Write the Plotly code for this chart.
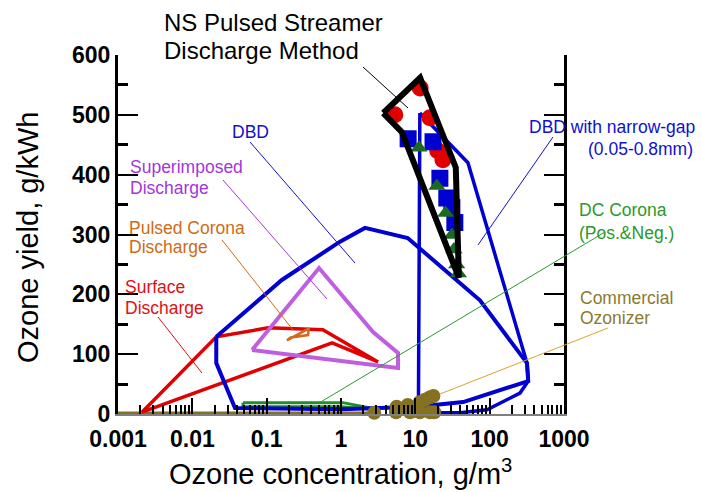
import plotly.graph_objects as go

# ---------------- data: x = ozone concentration (g/m3), y = ozone yield (g/kWh) ----------------
ns_x = [3.7, 11.6, 35, 38.5, 6.6, 3.7]
ns_y = [503, 562, 412, 228, 471, 503]

ns_red_x = [11.6, 5.3, 15.7, 20, 23.5]
ns_red_y = [545, 500, 495, 440, 425]
ns_blue_x = [8.0, 17.3, 21.4, 26.5, 31, 34]
ns_blue_y = [460, 455, 394, 361, 345, 320]
ns_green_x = [11.2, 19.5, 25.6, 31, 33, 36, 38]
ns_green_y = [445, 381, 336, 299, 275, 250, 235]

dbd_x = [0.021, 0.16, 0.97, 2.1, 7.9, 74, 318, 330, 44, 19.5, 10.5, 1, 0.0375, 0.021, 0.021]
dbd_y = [129, 224, 288, 311, 294, 190, 85, 55, 20, 15, 12, 8, 10, 85, 129]

narrow_x = [11.5, 51, 318, 330, 256, 92, 40, 11, 11.5]
narrow_y = [503, 420, 85, 55, 35, 7, 2, 2, 503]

surface_x = [0.0021, 0.021, 0.104, 0.57, 3.15, 0.76, 0.0021]
surface_y = [3, 129, 144, 141, 87, 119, 3]

superimposed_x = [0.0636, 0.506, 2.7, 5.85, 5.85, 0.0636]
superimposed_y = [107, 244, 137, 102, 77, 107]

pulsed_x = [0.187, 0.37, 0.36, 0.21, 0.187]
pulsed_y = [123, 143, 132, 128, 123]

dc_x = [0.048, 1.06, 3.3, 1.0, 0.048, 0.048]
dc_y = [19, 19, 7, 12, 12, 19]

ozonizer_x = [2.8, 5.5, 5.6, 7.9, 8.5, 11.5, 11.5, 13.5, 15.8, 17.5, 15.8, 18]
ozonizer_y = [2, 3, 12, 15, 3, 20, 3, 24, 28, 30, 3, 3]
ozonizer_base_x = [0.001, 2.8]
ozonizer_base_y = [1.5, 1.5]

x_tickvals = [0.001, 0.01, 0.1, 1, 10, 100, 1000]
x_ticktext = ["0.001", "0.01", "0.1", "1", "10", "100", "1000"]
y_tickvals = [0, 100, 200, 300, 400, 500, 600]

FONT = "Liberation Sans, Arial, sans-serif"

BLUE = "#0000d0"
RED = "#e00000"
PURPLE = "#c05ee0"
ORANGE = "#d2691e"
GREEN = "#1f8f2a"
DKGREEN = "#1a6a22"
OLIVE = "#85711f"

fig = go.Figure()


def outline(x, y, color, width):
    fig.add_trace(go.Scatter(x=x, y=y, mode="lines",
                             line=dict(color=color, width=width),
                             hoverinfo="skip", showlegend=False))


outline(dc_x, dc_y, GREEN, 3)
outline(ozonizer_base_x, ozonizer_base_y, OLIVE, 3)
outline(surface_x, surface_y, RED, 3.5)
outline(superimposed_x, superimposed_y, PURPLE, 4)
outline(pulsed_x, pulsed_y, ORANGE, 2.5)
outline(narrow_x, narrow_y, BLUE, 3.5)
outline(dbd_x, dbd_y, BLUE, 4)

fig.add_trace(go.Scatter(x=ozonizer_x, y=ozonizer_y, mode="markers",
                         marker=dict(symbol="circle", size=14, color=OLIVE),
                         cliponaxis=False, showlegend=False))
fig.add_trace(go.Scatter(x=ns_red_x, y=ns_red_y, mode="markers",
                         marker=dict(symbol="circle", size=17, color=RED),
                         cliponaxis=False, showlegend=False))
fig.add_trace(go.Scatter(x=ns_blue_x, y=ns_blue_y, mode="markers",
                         marker=dict(symbol="square", size=17, color=BLUE),
                         cliponaxis=False, showlegend=False))
fig.add_trace(go.Scatter(x=ns_green_x, y=ns_green_y, mode="markers",
                         marker=dict(symbol="triangle-up", size=15, color=DKGREEN),
                         cliponaxis=False, showlegend=False))
outline(ns_x, ns_y, "black", 6)

# ---------------- labels and leader lines (paper coordinates) ----------------
labels = [
    ("NS Pulsed Streamer", 0.0987, 1.0905, "left", "black", 24),
    ("Discharge Method", 0.0987, 1.0139, "left", "black", 24),
    ("DBD", 0.2511, 0.7855, "left", "#1010d0", 17.5),
    ("Superimposed", 0.0224, 0.688, "left", "#a335dc", 17.5),
    ("Discharge", 0.0224, 0.6295, "left", "#a335dc", 17.5),
    ("Pulsed Corona", 0.0202, 0.5181, "left", "#d06a15", 17.5),
    ("Discharge", 0.0202, 0.4652, "left", "#d06a15", 17.5),
    ("Surface", 0.0112, 0.3538, "left", "#e01010", 17.5),
    ("Discharge", 0.0112, 0.2953, "left", "#e01010", 17.5),
    ("DBD with narrow-gap", 1.2982, 0.7994, "right", "#1010d0", 17.5),
    ("(0.05-0.8mm)", 1.2937, 0.7382, "right", "#1010d0", 17.5),
    ("DC Corona", 1.0291, 0.5682, "left", "#2a9a2a", 17.5),
    ("(Pos.&Neg.)", 1.0291, 0.5042, "left", "#2a9a2a", 17.5),
    ("Commercial", 1.0314, 0.3231, "left", "#8a7a30", 17.5),
    ("Ozonizer", 1.0314, 0.2674, "left", "#8a7a30", 17.5),
]
annotations = []
for text, xp, yp, anchor, color, size in labels:
    annotations.append(dict(text=text, x=xp, y=yp, xref="paper", yref="paper",
                            xanchor=anchor, yanchor="middle", showarrow=False,
                            font=dict(family=FONT, size=size, color=color)))

annotations.append(dict(text="Ozone yield, g/kWh", x=-0.2018, y=0.493,
                        xref="paper", yref="paper", xanchor="center", yanchor="middle",
                        textangle=-90, showarrow=False,
                        font=dict(family=FONT, size=29, color="black")))
annotations.append(dict(text="Ozone concentration, g/m<sup>3</sup>", x=0.4978, y=-0.1616,
                        xref="paper", yref="paper", xanchor="center", yanchor="middle",
                        showarrow=False, font=dict(family=FONT, size=29, color="black")))

leaders = [
    ((0.5493, 0.9666), (0.6502, 0.8524), "black"),
    ((0.2960, 0.7577), (0.5314, 0.4206), "#1010d0"),
    ((0.2354, 0.6518), (0.4686, 0.3203), "#a335dc"),
    ((0.2332, 0.4847), (0.3924, 0.2340), "#d06a15"),
    ((0.0897, 0.2702), (0.1883, 0.1142), "#e01010"),
    ((0.9753, 0.7716), (0.8072, 0.4708), "#1010d0"),
    ((1.0919, 0.5070), (0.4507, 0.0306), "#2a9a2a"),
    ((1.0987, 0.2396), (0.7220, 0.0557), "#d4a52a"),
]
shapes = []
for (x0, y0), (x1, y1), color in leaders:
    shapes.append(dict(type="line", xref="paper", yref="paper",
                       x0=x0, y0=y0, x1=x1, y1=y1,
                       line=dict(color=color, width=1)))

minor_x = [m * 10.0 ** e for e in range(-3, 3) for m in range(2, 10)]

fig.update_layout(
    width=702, height=492,
    margin=dict(l=118, r=138, t=55, b=78),
    paper_bgcolor="white", plot_bgcolor="white",
    showlegend=False,
    annotations=annotations,
    shapes=shapes,
    font=dict(family=FONT, color="black"),
    xaxis=dict(type="log", range=[-3, 3], showgrid=False, zeroline=False,
               showline=True, linecolor="#7f7f7f", linewidth=2, mirror=False,
               tickmode="array", tickvals=x_tickvals, ticktext=x_ticktext,
               ticks="inside", ticklen=16, tickwidth=2, tickcolor="black",
               ticklabelstandoff=3,
               tickfont=dict(family=FONT, size=23, color="black", weight="bold"),
               minor=dict(tickmode="array", tickvals=minor_x, ticks="inside",
                          ticklen=9, tickwidth=2, tickcolor="black", showgrid=False)),
    yaxis=dict(range=[0, 600], showgrid=False, zeroline=False,
               showline=True, linecolor="black", linewidth=3, mirror="ticks",
               tickmode="array", tickvals=y_tickvals,
               ticks="inside", ticklen=20, tickwidth=2, tickcolor="black",
               tickfont=dict(family=FONT, size=23, color="black", weight="bold"),
               minor=dict(tickmode="array", tickvals=[50, 150, 250, 350, 450, 550],
                          ticks="inside", ticklen=10, tickwidth=3, tickcolor="black",
                          showgrid=False)),
)

fig.write_html("out.html")
